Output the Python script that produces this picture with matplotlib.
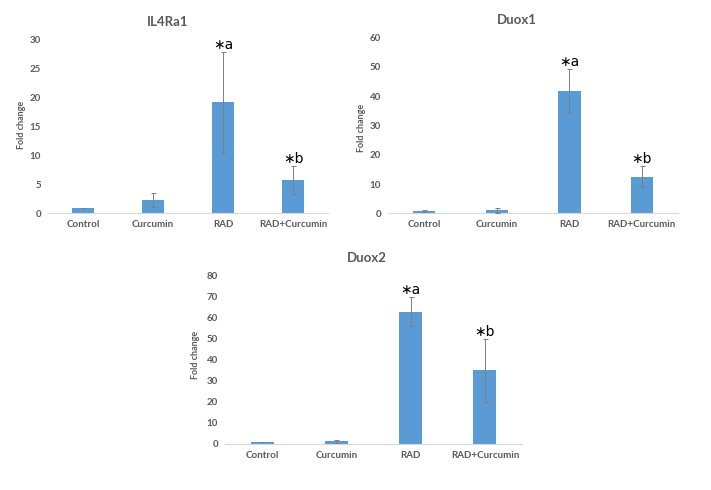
import matplotlib
matplotlib.use("Agg")
import matplotlib.pyplot as plt

categories = ["Control", "Curcumin", "RAD", "RAD+Curcumin"]

il4ra1_mean = [1.0, 2.3, 19.2, 5.8]
il4ra1_err = [0.0, 1.2, 8.8, 2.4]
il4ra1_marks = ["", "", "∗a", "∗b"]

duox1_mean = [0.8, 1.0, 41.8, 12.5]
duox1_err = [0.2, 0.8, 7.6, 3.6]
duox1_marks = ["", "", "∗a", "∗b"]

duox2_mean = [0.9, 1.2, 63.0, 35.0]
duox2_err = [0.1, 0.7, 6.8, 15.0]
duox2_marks = ["", "", "∗a", "∗b"]

BAR = "#5B9BD5"
GREY = "#595959"

plt.rcParams["font.family"] = ["Lato", "DejaVu Sans"]
plt.rcParams["font.weight"] = "bold"


def draw_panel(ax, means, errs, marks, ymax, step):
    x = range(len(categories))
    ax.bar(x, means, width=0.31, color=BAR, zorder=2)
    ax.errorbar(x, means, yerr=errs, fmt="none", ecolor="#7f7f7f",
                elinewidth=0.7, capsize=1.8, capthick=0.7, zorder=3)
    for xi, m, e, lab in zip(x, means, errs, marks):
        if lab:
            ax.text(xi, m + e, lab, ha="center", va="bottom",
                    fontsize=10, fontweight="normal", color="black",
                    family=["DejaVu Sans"])
    ax.set_xlim(-0.5, len(categories) - 0.5)
    ax.set_ylim(0, ymax)
    ax.set_yticks(range(0, ymax + 1, step))
    ax.set_xticks(list(x))
    ax.set_xticklabels(categories)
    for s in ["top", "right", "left"]:
        ax.spines[s].set_visible(False)
    ax.spines["bottom"].set_color("#d9d9d9")
    ax.tick_params(axis="both", length=0, labelsize=7, colors=GREY, pad=5)


fig = plt.figure(figsize=(7.11, 4.9), dpi=100)

ax1 = fig.add_axes([0.0675, 0.5647, 0.394, 0.3537])
draw_panel(ax1, il4ra1_mean, il4ra1_err, il4ra1_marks, 30, 5)

ax2 = fig.add_axes([0.5457, 0.5647, 0.408, 0.3584])
draw_panel(ax2, duox1_mean, duox1_err, duox1_marks, 60, 10)

ax3 = fig.add_axes([0.3165, 0.0939, 0.4177, 0.343])
draw_panel(ax3, duox2_mean, duox2_err, duox2_marks, 80, 10)

W, H = 711, 490
titles = [("IL4Ra1", 168, 22), ("Duox1", 517, 20), ("Duox2", 367, 258)]
for t, px, py in titles:
    fig.text(px / W, 1 - py / H, t, ha="center", va="center",
             fontsize=9.5, fontweight="bold", color=GREY)

ylabels = [(21, 125), (362, 128), (195, 355)]
for px, py in ylabels:
    fig.text(px / W, 1 - py / H, "Fold change", ha="center", va="center",
             rotation=90, fontsize=6.5, color=GREY)

fig.savefig("out.png", dpi=100, facecolor="white")
